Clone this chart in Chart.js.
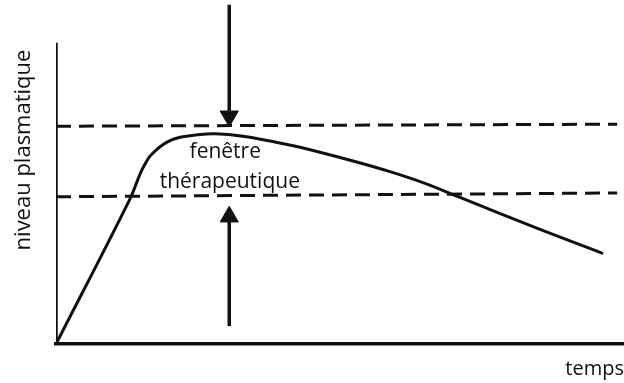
<!DOCTYPE html>
<html><head><meta charset="utf-8">
<script src="https://cdn.jsdelivr.net/npm/chart.js@4.4.1/dist/chart.umd.min.js"></script>
<style>html,body{margin:0;padding:0;background:#fff}#wrap{width:624px;height:383px}</style>
</head><body><div id="wrap"><canvas id="c"></canvas></div>
<script>
// Plasma level curve (time, level)
const curveX = [0, 13.03, 14.79, 15.67, 16.55, 17.78, 19.54, 21.83, 24.82, 27.99, 32.92, 38.91, 42.96, 52.29, 58.80, 64.96, 71.13, 83.98, 96.30];
const curveY = [0, 42.2, 49.4, 52.3, 54.6, 56.6, 58.7, 60.1, 60.8, 61.1, 60.4, 58.6, 57.2, 53.2, 50.1, 46.7, 42.6, 34.1, 26.3];
// therapeutic window bounds (start, end)
const windowX = [0, 98.8];
const upperBound = [63.3, 63.9];
const lowerBound = [42.8, 43.9];
// arrows (x, from, to)
const downArrowX = [30.5, 30.5];
const downArrowY = [98.6, 66.2];
const upArrowX = [30.5, 30.5];
const upArrowY = [5.2, 37.0];
// y axis line
const yAxisX = [0, 0];
const yAxisY = [0, 87.6];
// labels
const yTitle = 'niveau plasmatique';
const xTitle = 'temps';
const windowLabels = ['fenêtre', 'thérapeutique'];
const windowLabelX = [29.8, 30.6];
const windowLabelY = [55.8, 47.1];

const pts = (xs, ys) => xs.map((x, i) => ({x, y: ys[i]}));
const FONT = "'Open Sans', 'Noto Sans', sans-serif";

const textPlugin = {
  id: 'texts',
  afterDatasetsDraw(chart) {
    const {ctx, scales: {x, y}} = chart;
    ctx.save();
    ctx.fillStyle = '#111';
    ctx.textAlign = 'center';
    ctx.textBaseline = 'middle';
    ctx.font = '21px ' + FONT;
    windowLabels.forEach((t, i) => {
      ctx.fillText(t, x.getPixelForValue(windowLabelX[i]), y.getPixelForValue(windowLabelY[i]));
    });
    ctx.font = '22px ' + FONT;
    ctx.translate(24, 150);
    ctx.rotate(-Math.PI / 2);
    ctx.fillText(yTitle, 0, 0);
    ctx.restore();
  }
};

const black = '#111';
new Chart(document.getElementById('c'), {
  type: 'line',
  data: {
    datasets: [
      {data: pts(curveX, curveY), borderColor: black, borderWidth: 3, pointRadius: 0, tension: 0.4},
      {data: pts(windowX, upperBound), borderColor: black, borderWidth: 3, borderDash: [15, 8], pointRadius: 0},
      {data: pts(windowX, lowerBound), borderColor: black, borderWidth: 3, borderDash: [15, 8], pointRadius: 0},
      {data: pts(downArrowX, downArrowY), borderColor: black, borderWidth: 3.5, pointStyle: 'triangle', pointRadius: [0, 10.5], pointRotation: [0, 180], pointBackgroundColor: black, pointBorderColor: black, pointBorderWidth: 1},
      {data: pts(upArrowX, upArrowY), borderColor: black, borderWidth: 3.5, pointStyle: 'triangle', pointRadius: [0, 10.5], pointRotation: [0, 0], pointBackgroundColor: black, pointBorderColor: black, pointBorderWidth: 1},
      {data: pts(yAxisX, yAxisY), borderColor: black, borderWidth: 3.5, pointRadius: 0, borderCapStyle: 'butt'}
    ]
  },
  options: {
    responsive: true, maintainAspectRatio: false, animation: false,
    layout: {autoPadding: false, padding: {left: 56, right: 0, top: 0, bottom: 0}},
    plugins: {legend: {display: false}, tooltip: {enabled: false}},
    scales: {
      x: {type: 'linear', min: 0, max: 100,
          grid: {display: false, drawTicks: false},
          ticks: {display: false},
          border: {display: true, color: black, width: 3.5},
          title: {display: true, text: xTitle, align: 'end', color: '#111', font: {family: FONT, size: 20}, padding: {top: 13, bottom: 2}}},
      y: {type: 'linear', min: 0, max: 100, display: false}
    }
  },
  plugins: [textPlugin]
});
</script>
</body></html>
